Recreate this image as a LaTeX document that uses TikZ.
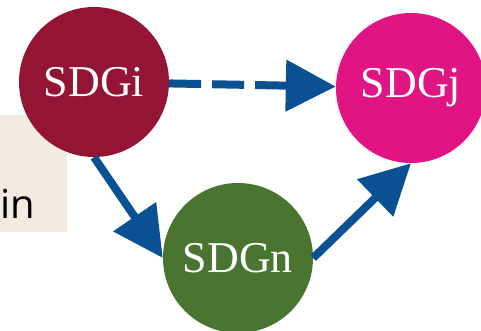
\documentclass[tikz,border=0pt]{standalone}
\usepackage{fontspec}
\setmainfont{Liberation Serif}
\newfontfamily\boxfont{Open Sans}
\usetikzlibrary{arrows.meta}
\definecolor{sdgired}{HTML}{931533}
\definecolor{sdgjpink}{HTML}{E11483}
\definecolor{sdgngreen}{HTML}{4A7530}
\definecolor{linkblue}{HTML}{0A5194}
\definecolor{notebeige}{HTML}{F3EBE0}
\tikzset{
  goal/.style={circle, minimum size=150pt, inner sep=0pt, text=white,
    font=\fontsize{44}{44}\selectfont},
  link/.style={line width=8pt, draw=linkblue,
    -{Triangle[length=50pt,width=50pt,fill=linkblue]}}
}
\begin{document}
\begin{tikzpicture}[x=1pt,y=-1pt]
      \useasboundingbox (0,0) rectangle (481,331);
      \clip (0,0) rectangle (481,331);
      \fill[notebeige] (0,115) rectangle (67,232);
      \node[anchor=base west, inner sep=0pt, font=\boxfont\fontsize{40}{40}\selectfont] (note) at (0,218) {in};
      \draw
        (94,82) node[goal, fill=sdgired] (i){SDGi}
        (411,88) node[goal, fill=sdgjpink] (j){SDGj}
        (238,258) node[goal, fill=sdgngreen] (n){SDGn};
      \begin{scope}[link]
        \draw[dash pattern=on 32pt off 11pt] (i) to (j);
        \draw (i.south) to (n.west);
        \draw (n.east) to (j.south);
      \end{scope}
    \end{tikzpicture}
\end{document}
